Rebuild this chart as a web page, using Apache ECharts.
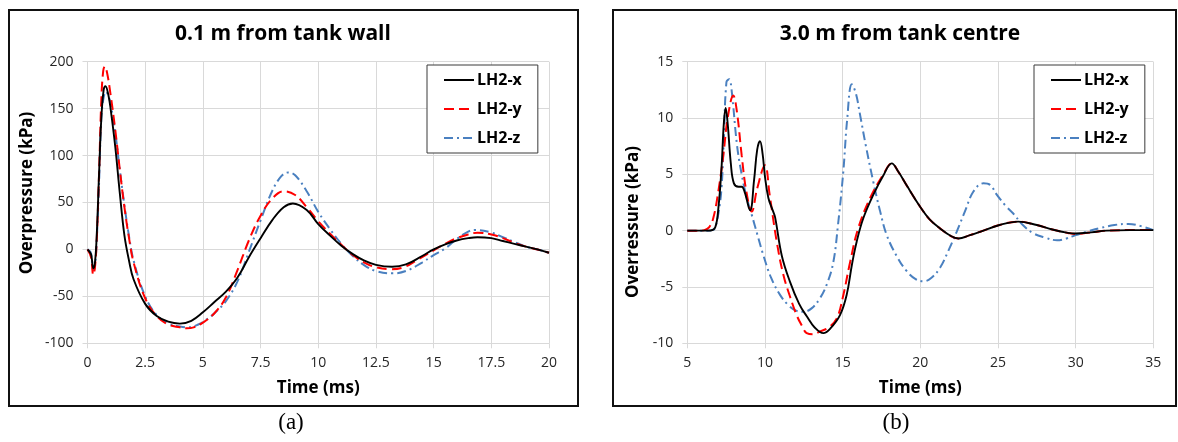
<!DOCTYPE html>
<html>
<head>
<meta charset="utf-8">
<script src="https://cdn.jsdelivr.net/npm/echarts@6/dist/echarts.min.js"></script>
<style>
html,body{margin:0;padding:0;background:#fff;}
#c{width:1178px;height:442px;}
</style>
</head>
<body>
<div id="c"></div>
<script>
// ---------- Data ----------
const seriesNames = ['LH2-x', 'LH2-y', 'LH2-z'];

// Panel (a): 0.1 m from tank wall  [time (ms), overpressure (kPa)]
const aLH2x = [[0,0],[0.15,-5],[0.25,-20],[0.32,-15],[0.4,15],[0.5,80],[0.6,140],[0.7,170],[0.78,174],[0.9,165],[1.0,150],[1.2,110],[1.4,60],[1.6,15],[1.8,-12],[2.0,-32],[2.5,-58],[3.0,-71],[3.5,-77],[4.0,-79],[4.5,-76],[5.0,-67],[5.5,-56],[6.0,-45],[6.5,-30],[7.0,-8],[7.5,12],[8.0,31],[8.5,45],[8.9,49],[9.5,42],[10,27],[10.5,15],[11,4],[11.5,-5],[12,-12],[12.5,-16.5],[13.2,-18.5],[13.8,-16],[14.5,-7],[15,0],[15.5,5.5],[16,9.5],[16.5,12],[16.9,13],[17.5,12],[18,9],[18.5,6],[19,3],[19.5,0],[20,-3.5]];
const aLH2y = [[0,0],[0.15,-8],[0.25,-27],[0.32,-20],[0.4,10],[0.5,80],[0.6,160],[0.68,190],[0.75,195],[0.85,188],[1.0,165],[1.2,128],[1.4,85],[1.6,45],[1.8,12],[2.0,-14],[2.5,-52],[3.0,-71],[3.5,-80],[4.0,-83],[4.3,-84],[4.6,-83],[5.0,-78],[5.5,-68],[6.0,-51],[6.5,-22],[7.0,10],[7.5,36],[8.0,54],[8.5,62],[9.0,58],[9.5,45],[10,30],[10.5,17],[11,5],[11.5,-6],[12,-14],[12.5,-19],[13.1,-21],[13.7,-19],[14.3,-11],[15,-1],[15.5,6],[16,12],[16.5,16],[16.9,17.8],[17.5,16],[18,12],[18.5,7],[19,3],[19.5,0],[20,-3.5]];
const aLH2z = [[0,0],[0.15,-4],[0.25,-22],[0.32,-18],[0.4,10],[0.5,70],[0.6,140],[0.7,162],[0.8,168],[0.9,164],[1.0,155],[1.2,125],[1.4,85],[1.6,47],[1.8,14],[2.0,-12],[2.5,-50],[3.0,-70],[3.5,-79],[4.0,-82],[4.4,-83],[4.8,-80],[5.2,-74],[5.5,-68],[6.0,-55],[6.5,-34],[7.0,-2],[7.5,31],[8.0,62],[8.4,78],[8.7,82],[9.0,79],[9.5,62],[10,40],[10.5,22],[11,6],[11.5,-7],[12,-17],[12.5,-23],[13.2,-25.5],[13.8,-23],[14.5,-14],[15,-6],[15.5,1],[16,11],[16.5,19],[16.8,20.7],[17.5,18],[18,13],[18.5,8],[19,3],[19.5,0],[20,-3.5]];

// Panel (b): 3.0 m from tank centre
const bLH2x = [[5,0],[6,0],[6.5,0.02],[6.8,0.3],[7.0,2.0],[7.2,5.5],[7.35,9.5],[7.47,10.9],[7.6,9.5],[7.8,6],[8.0,4.2],[8.3,3.9],[8.5,3.9],[8.7,3.4],[9.04,1.8],[9.3,4.5],[9.5,7.2],[9.68,7.95],[9.85,6.8],[10.0,4.8],[10.22,2.9],[10.5,1.8],[10.65,1.2],[11.08,-2.2],[11.6,-4.5],[12.2,-6.5],[12.69,-7.6],[13.2,-8.6],[13.76,-9.1],[14.2,-8.7],[14.83,-7.5],[15.26,-5.7],[15.6,-3.0],[15.9,-1.0],[16.33,1.1],[16.98,3.2],[17.62,4.9],[18.16,5.97],[18.6,5.2],[19.13,4.0],[20,2.1],[20.6,1.0],[21.27,0.2],[22.0,-0.5],[22.45,-0.7],[23.2,-0.4],[23.85,-0.1],[25.1,0.5],[26.3,0.8],[27.5,0.5],[28.5,0.1],[29.5,-0.2],[30,-0.25],[31,-0.15],[32,0],[33.5,0.05],[35,0.05]];
const bLH2y = [[5,0],[5.8,0],[6.1,0.05],[6.4,0.3],[6.67,1.1],[7.0,3.5],[7.32,6.7],[7.6,10],[7.96,12.0],[8.2,10.5],[8.5,6.7],[8.8,3.5],[9.15,1.7],[9.5,3.75],[10.0,5.8],[10.3,3.2],[10.76,-1.0],[11.18,-3.9],[11.6,-5.8],[12.04,-7.5],[12.4,-8.5],[12.69,-9.1],[13.1,-9.2],[13.54,-8.95],[14.1,-8.6],[14.62,-7.8],[15.0,-6.0],[15.48,-2.8],[16.0,0.2],[16.77,2.9],[17.62,5.0],[18.16,5.95],[18.6,5.2],[19.13,4.0],[20,2.1],[20.6,1.0],[21.27,0.2],[22.0,-0.5],[22.45,-0.7],[23.2,-0.4],[23.85,-0.1],[25.1,0.5],[26.3,0.8],[27.5,0.5],[28.5,0.1],[29.5,-0.2],[30,-0.3],[31,-0.15],[32,0],[33.5,0.05],[35,0.05]];
const bLH2z = [[5,0],[6.3,0],[6.6,0.05],[6.77,0.2],[7.0,1.5],[7.2,3.75],[7.35,8],[7.52,13.2],[7.7,13.45],[7.85,12.5],[8.2,7.6],[8.5,5.0],[8.83,2.9],[9.15,1.4],[9.5,-0.3],[9.9,-2.2],[10.4,-4.2],[10.97,-5.7],[11.5,-6.6],[12.0,-7.1],[12.47,-7.2],[13.0,-6.9],[13.54,-6.0],[14.0,-4.7],[14.4,-2.8],[14.7,0.5],[15.04,5.2],[15.3,10],[15.59,13.0],[15.85,12.2],[16.12,10.3],[16.5,7.5],[16.98,4.3],[17.4,1.8],[17.84,-0.4],[18.5,-2.3],[19.13,-3.6],[19.7,-4.3],[20.2,-4.5],[20.7,-4.2],[21.27,-3.3],[21.8,-1.8],[22.34,-0.1],[22.9,1.8],[23.41,3.45],[24.06,4.2],[24.5,4.05],[24.92,3.2],[25.5,2.2],[26.0,1.5],[26.6,0.5],[27.3,-0.25],[28.0,-0.6],[28.8,-0.85],[29.4,-0.7],[30,-0.4],[30.7,-0.1],[31.5,0.2],[32.5,0.5],[33.4,0.6],[34.2,0.4],[35,0.05]];

// Tick labels
const xTicksA = [0, 2.5, 5, 7.5, 10, 12.5, 15, 17.5, 20];
const yTicksA = [-100, -50, 0, 50, 100, 150, 200];
const xTicksB = [5, 10, 15, 20, 25, 30, 35];
const yTicksB = [-10, -5, 0, 5, 10, 15];

// Texts
const titleA = '0.1 m from tank wall';
const titleB = '3.0 m from tank centre';
const xNameA = 'Time (ms)';
const xNameB = 'Time (ms)';
const yNameA = 'Overpressure (kPa)';
const yNameB = 'Overressure (kPa)';
const captionA = '(a)';
const captionB = '(b)';

// ---------- Chart ----------
const FONT = '"Open Sans", "DejaVu Sans", sans-serif';
const GRID_COLOR = '#d9d9d9';
const LABEL_COLOR = '#262626';

const styles = [
  { color: '#000000', width: 1.9, type: 'solid' },
  { color: '#ff0000', width: 2, type: [10, 5] },
  { color: '#4a80c0', width: 2, type: [9, 4, 2, 4] }
];

function axisX(ticks, gridIndex, name) {
  return {
    type: 'value', gridIndex,
    min: ticks[0], max: ticks[ticks.length - 1], interval: ticks[1] - ticks[0],
    name, nameLocation: 'middle', nameGap: 36,
    nameTextStyle: { fontFamily: FONT, fontWeight: 'bold', fontSize: 17, color: '#000' },
    axisLine: { show: true, onZero: false, lineStyle: { color: GRID_COLOR, width: 1 } },
    axisTick: { show: true, length: 5, lineStyle: { color: GRID_COLOR } },
    axisLabel: { fontFamily: FONT, fontSize: 14, color: LABEL_COLOR, margin: 13 },
    splitLine: { show: true, lineStyle: { color: GRID_COLOR, width: 1 } }
  };
}
function axisY(ticks, gridIndex) {
  return {
    type: 'value', gridIndex,
    min: ticks[0], max: ticks[ticks.length - 1], interval: ticks[1] - ticks[0],
    axisLine: { show: true, onZero: false, lineStyle: { color: GRID_COLOR, width: 1 } },
    axisTick: { show: true, length: 5, lineStyle: { color: GRID_COLOR } },
    axisLabel: { fontFamily: FONT, fontSize: 14, color: LABEL_COLOR, margin: 14 },
    splitLine: { show: true, lineStyle: { color: GRID_COLOR, width: 1 } }
  };
}
function mkSeries(name, data, idx, axisIdx) {
  return {
    name, type: 'line', data,
    xAxisIndex: axisIdx, yAxisIndex: axisIdx,
    showSymbol: false, symbol: 'none',
    smooth: 0.4,
    lineStyle: styles[idx], itemStyle: { color: styles[idx].color },
    animation: false, z: 10 - idx
  };
}
function mkLegend(left) {
  return {
    data: seriesNames, orient: 'vertical', left, top: 65,
    itemWidth: 30, itemHeight: 14, itemGap: 13,
    padding: [7, 16, 7, 16],
    borderColor: '#3a3a3a', borderWidth: 1, backgroundColor: '#fff',
    itemStyle: { opacity: 0, borderWidth: 0 },
    textStyle: { fontFamily: FONT, fontWeight: 'bold', fontSize: 16, color: '#000', padding: [0, 0, 0, -2] },
    selectedMode: false
  };
}
function yName(text, x, y) {
  return { type: 'text', x, y, rotation: Math.PI / 2,
    style: { text, fontFamily: FONT, fontWeight: 'bold', fontSize: 17, fill: '#000', textAlign: 'center', textVerticalAlign: 'middle' } };
}
function title(text, x) {
  return { type: 'text', x, y: 34,
    style: { text, fontFamily: FONT, fontWeight: 'bold', fontSize: 21, fill: '#000', textAlign: 'center', textVerticalAlign: 'middle' } };
}
function caption(text, x) {
  return { type: 'text', x, y: 423,
    style: { text, fontFamily: '"Liberation Serif", "DejaVu Serif", serif', fontSize: 23, fill: '#000', textAlign: 'center', textVerticalAlign: 'middle' } };
}

const chart = echarts.init(document.getElementById('c'), null, { renderer: 'canvas' });
chart.setOption({
  backgroundColor: '#ffffff',
  animation: false,
  grid: [
    { left: 87.5, top: 61.7, width: 461.5, height: 281.6 },
    { left: 687.3, top: 61.7, width: 466, height: 281.6 }
  ],
  xAxis: [axisX(xTicksA, 0, xNameA), axisX(xTicksB, 1, xNameB)],
  yAxis: [axisY(yTicksA, 0), axisY(yTicksB, 1)],
  legend: [mkLegend(427), mkLegend(1034)],
  series: [
    mkSeries(seriesNames[0], aLH2x, 0, 0),
    mkSeries(seriesNames[1], aLH2y, 1, 0),
    mkSeries(seriesNames[2], aLH2z, 2, 0),
    mkSeries(seriesNames[0], bLH2x, 0, 1),
    mkSeries(seriesNames[1], bLH2y, 1, 1),
    mkSeries(seriesNames[2], bLH2z, 2, 1)
  ],
  graphic: [
    { type: 'rect', shape: { x: 9, y: 10, width: 569, height: 396 }, style: { fill: 'none', stroke: '#111', lineWidth: 2 }, z: -1 },
    { type: 'rect', shape: { x: 613, y: 10, width: 563, height: 396 }, style: { fill: 'none', stroke: '#111', lineWidth: 2 }, z: -1 },
    title(titleA, 283),
    title(titleB, 900),
    yName(yNameA, 27, 193),
    yName(yNameB, 633, 222),
    caption(captionA, 291),
    caption(captionB, 896)
  ]
});
</script>
</body>
</html>
